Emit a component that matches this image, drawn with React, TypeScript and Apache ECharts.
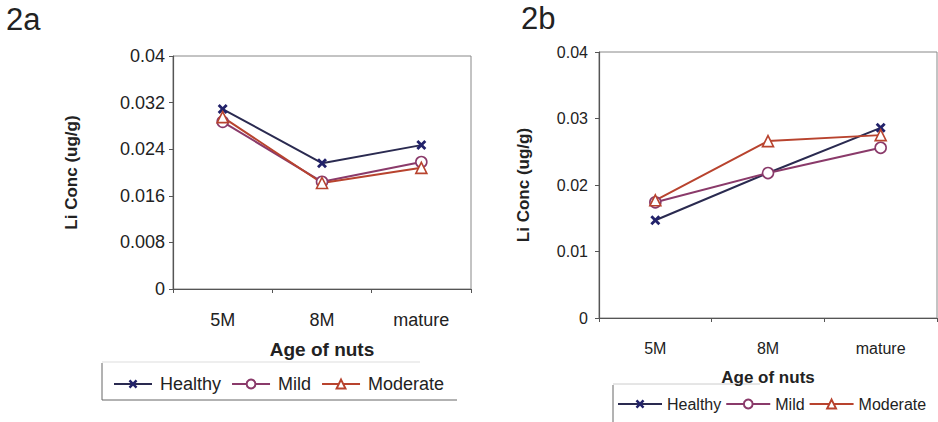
import React, { useEffect, useRef } from "react";
import * as echarts from "echarts";

const categories = ["5M", "8M", "mature"];
const seriesNames = ["Healthy", "Mild", "Moderate"];
const healthyA = [0.0309, 0.0216, 0.0247];
const mildA = [0.0287, 0.0184, 0.0218];
const moderateA = [0.0295, 0.0182, 0.0208];
const healthyB = [0.0147, 0.0218, 0.0286];
const mildB = [0.0174, 0.0218, 0.0256];
const moderateB = [0.0177, 0.0266, 0.0275];
const yMaxA = 0.04;
const yStepA = 0.008;
const yMaxB = 0.04;
const yStepB = 0.01;

const FONT = '"Liberation Sans", Arial, sans-serif';
const C_HEALTHY = "#22226a";
const C_MILD = "#8a3a6a";
const C_MOD = "#b8432e";
const X_SYMBOL = "path://M0,2 L2,0 L5,3 L8,0 L10,2 L7,5 L10,8 L8,10 L5,7 L2,10 L0,8 L3,5 Z";

const fmt = (v: number) => (v === 0 ? "0" : String(parseFloat(v.toFixed(4))));

function mkSeries(name: string, data: number[], idx: number) {
  const color = name === "Healthy" ? C_HEALTHY : name === "Mild" ? C_MILD : C_MOD;
  const symbol = name === "Healthy" ? X_SYMBOL : name === "Mild" ? "circle" : "triangle";
  return {
    name,
    type: "line",
    xAxisIndex: idx,
    yAxisIndex: idx,
    data,
    symbol,
    symbolSize: name === "Healthy" ? 10 : 11,
    lineStyle: { color: name === "Healthy" ? "#2a2a50" : color, width: 2 },
    itemStyle:
      name === "Healthy"
        ? { color: C_HEALTHY, borderWidth: 0 }
        : { color: "#ffffff", borderColor: color, borderWidth: 1.6 },
  };
}

export default function App() {
  const ref = useRef<HTMLDivElement>(null);
  useEffect(() => {
    document.body.style.margin = "0";
    const chart = echarts.init(ref.current!, null, { renderer: "svg" });
    const xAxisBase = (fontSize: number) => ({
      type: "category",
      data: categories,
      boundaryGap: true,
      axisLine: { show: true, lineStyle: { color: "#555", width: 1.2 } },
      axisTick: { show: true, length: 4, inside: false, lineStyle: { color: "#555" } },
      axisLabel: { color: "#222", fontSize, fontFamily: FONT, margin: 22 },
      name: "Age of nuts",
      nameLocation: "middle",
      nameGap: 51,
      nameTextStyle: { color: "#222", fontSize: fontSize + 1, fontWeight: "bold", fontFamily: FONT },
    });
    const yAxisBase = (max: number, step: number, fontSize: number, nameGap: number, margin: number) => ({
      type: "value",
      min: 0,
      max,
      interval: step,
      axisLine: { show: true, lineStyle: { color: "#555", width: 1.2 } },
      axisTick: { show: true, length: 4, lineStyle: { color: "#555" } },
      splitLine: { show: false },
      axisLabel: { color: "#222", fontSize, fontFamily: FONT, margin, formatter: fmt },
      name: "Li Conc (ug/g)",
      nameLocation: "middle",
      nameGap,
      nameTextStyle: { color: "#222", fontSize: 17, fontWeight: "bold", fontFamily: FONT },
    });
    chart.setOption({
      animation: false,
      backgroundColor: "#ffffff",
      grid: [
        { left: 173, top: 56, width: 298, height: 233, show: true, borderColor: "#888", borderWidth: 1 },
        { left: 599, top: 52, width: 338, height: 266, show: true, borderColor: "#888", borderWidth: 1 },
      ],
      xAxis: [
        { ...xAxisBase(18), gridIndex: 0 },
        { ...xAxisBase(16), gridIndex: 1 },
      ],
      yAxis: [
        { ...yAxisBase(yMaxA, yStepA, 18, 93, 8), gridIndex: 0 },
        { ...yAxisBase(yMaxB, yStepB, 16, 67, 11), gridIndex: 1 },
      ],
      legend: [
        {
          data: seriesNames,
          left: 108,
          top: 370,
          itemWidth: 38,
          itemHeight: 11,
          itemGap: 10,
          textStyle: { color: "#222", fontSize: 18, fontFamily: FONT, padding: [0, 0, 0, 3] },
        },
        {
          data: seriesNames,
          left: 612,
          top: 391,
          itemWidth: 44,
          itemHeight: 11,
          itemGap: 4,
          textStyle: { color: "#222", fontSize: 16, fontFamily: FONT, padding: [0, 0, 0, 0] },
        },
      ],
      graphic: [
        { type: "text", left: 6, top: 4, style: { text: "2a", font: `31px ${FONT}`, fill: "#222" } },
        { type: "text", left: 521, top: 3, style: { text: "2b", font: `31px ${FONT}`, fill: "#222" } },
        { type: "line", shape: { x1: 102, y1: 363, x2: 102, y2: 400 }, style: { stroke: "#666", lineWidth: 1 } },
        { type: "line", shape: { x1: 102, y1: 400, x2: 457, y2: 400 }, style: { stroke: "#666", lineWidth: 1 } },
        { type: "line", shape: { x1: 102, y1: 362, x2: 420, y2: 362 }, style: { stroke: "#ddd", lineWidth: 1 } },
        { type: "line", shape: { x1: 613, y1: 385, x2: 613, y2: 422 }, style: { stroke: "#666", lineWidth: 1 } },
        { type: "line", shape: { x1: 613, y1: 384, x2: 760, y2: 384 }, style: { stroke: "#ccc", lineWidth: 1 } },
      ],
      series: [
        mkSeries("Healthy", healthyA, 0),
        mkSeries("Mild", mildA, 0),
        mkSeries("Moderate", moderateA, 0),
        mkSeries("Healthy", healthyB, 1),
        mkSeries("Mild", mildB, 1),
        mkSeries("Moderate", moderateB, 1),
      ],
    });
    return () => chart.dispose();
  }, []);
  return <div ref={ref} style={{ position: "fixed", left: 0, top: 0, width: 938, height: 422 }} />;
}
